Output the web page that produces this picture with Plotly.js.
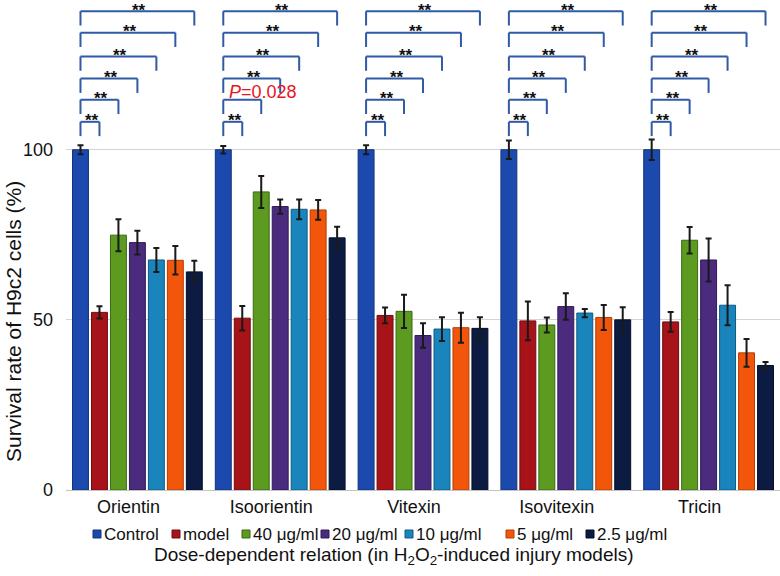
<!DOCTYPE html>
<html>
<head>
<meta charset="utf-8">
<script src="https://cdn.plot.ly/plotly-3.0.1.min.js"></script>
<style>html,body{margin:0;padding:0;background:#fff;}#chart{width:780px;height:576px;}</style>
</head>
<body>
<div id="chart"></div>
<script>
// ---- data ----
const categories = ['Orientin', 'Isoorientin', 'Vitexin', 'Isovitexin', 'Tricin'];
const seriesNames = ['Control', 'model', '40 μg/ml', '20 μg/ml', '10 μg/ml', '5 μg/ml', '2.5 μg/ml'];

const controlVals = [100, 100, 100, 100, 100];
const controlErr  = [1.3, 1.1, 1.3, 2.7, 3.0];
const modelVals   = [52.2, 50.5, 51.3, 49.7, 49.4];
const modelErr    = [1.8, 3.6, 2.3, 5.7, 2.9];
const d40Vals     = [74.9, 87.6, 52.5, 48.5, 73.4];
const d40Err      = [4.7, 4.7, 4.9, 2.2, 3.9];
const d20Vals     = [72.7, 83.3, 45.4, 53.9, 67.6];
const d20Err      = [3.5, 2.1, 3.6, 3.9, 6.3];
const d10Vals     = [67.6, 82.5, 47.3, 52.0, 54.3];
const d10Err      = [3.5, 2.9, 3.5, 1.2, 5.9];
const d5Vals      = [67.5, 82.3, 47.7, 50.7, 40.3];
const d5Err       = [4.2, 2.9, 4.4, 3.7, 4.1];
const d25Vals     = [64.1, 74.1, 47.5, 50.0, 36.6];
const d25Err      = [3.3, 3.3, 3.3, 3.7, 1.0];

const yTickVals = [0, 50, 100];
const yTitle = 'Survival rate of H9c2 cells (%)';
const xTitle = 'Dose-dependent relation (in H<sub>2</sub>O<sub>2</sub>-induced injury models)';

// significance labels: control vs model, 40, 20, 10, 5, 2.5
const sigLabels = [
  ['**', '**', '**', '**', '**', '**'],
  ['**', 'P=0.028', '**', '**', '**', '**'],
  ['**', '**', '**', '**', '**', '**'],
  ['**', '**', '**', '**', '**', '**'],
  ['**', '**', '**', '**', '**', '**']
];

// ---- styles / layout constants ----
const FONT = 'Liberation Sans, Arial, Helvetica, sans-serif';
const barColors  = ['#1B49AE', '#A81219', '#5C9A20', '#4B2B7E', '#1A84BC', '#F2560A', '#0B1B42'];
const edgeColors = ['#123478', '#6E0C10', '#3B6915', '#311B55', '#115A82', '#B23E06', '#050E24'];
const BARGAP = 0.07, GROUPGAP = 0.16;
const bracketLevels = [108.2, 114.7, 120.9, 127.4, 134.4, 140.7];
const legLen = 4.2;
const bracketColor = '#2F5AA5';

const allVals = [controlVals, modelVals, d40Vals, d20Vals, d10Vals, d5Vals, d25Vals];
const allErrs = [controlErr, modelErr, d40Err, d20Err, d10Err, d5Err, d25Err];

const traces = allVals.map((vals, k) => ({
  type: 'bar',
  name: seriesNames[k],
  x: categories,
  y: vals,
  marker: { color: barColors[k], line: { color: edgeColors[k], width: 1 } },
  error_y: { type: 'data', array: allErrs[k], visible: true, color: '#1a1a1a', thickness: 2, width: 3 },
  showlegend: false,
  hoverinfo: 'x+y+name'
}));

// brackets
const shapes = [];
const annotations = [];
const step = (1 - BARGAP) / seriesNames.length;
const mid = (seriesNames.length - 1) / 2;
categories.forEach((c, i) => {
  const xL = i + (0 - mid) * step;
  for (let j = 1; j < seriesNames.length; j++) {
    const xR = i + (j - mid) * step;
    const yT = bracketLevels[j - 1];
    const yB = yT - legLen;
    const ln = { color: bracketColor, width: 2 };
    shapes.push({ type: 'line', xref: 'x', yref: 'y', x0: xL, x1: xL, y0: yB, y1: yT, line: ln });
    shapes.push({ type: 'line', xref: 'x', yref: 'y', x0: xL, x1: xR, y0: yT, y1: yT, line: ln });
    shapes.push({ type: 'line', xref: 'x', yref: 'y', x0: xR, x1: xR, y0: yB, y1: yT, line: ln });
    const lab = sigLabels[i][j - 1];
    if (lab === '**') {
      annotations.push({ xref: 'x', yref: 'y', x: (xL + xR) / 2, y: yT, yanchor: 'middle', yshift: 1, xshift: 2,
        text: '<b>**</b>', showarrow: false, font: { family: FONT, size: 17, color: '#111' } });
    } else {
      const t = lab.replace(/^P/, '<i>P</i>');
      annotations.push({ xref: 'x', yref: 'y', x: xL, y: yT + 2.4, xanchor: 'left', yanchor: 'middle', xshift: 4,
        text: t, showarrow: false, font: { family: FONT, size: 18, color: '#E8141C' } });
    }
  }
});

// manual compact legend + titles
const PL = 66, PW = 714, PH = 490;
const px2x = p => (p - PL) / PW;
const py2y = p => (PH - p) / PH;
const legendIconX = [97, 176, 246, 325, 409, 510, 590];
const legendY = 534;
seriesNames.forEach((n, k) => {
  const cx = legendIconX[k];
  shapes.push({ type: 'rect', xref: 'paper', yref: 'paper',
    x0: px2x(cx - 4), x1: px2x(cx + 4), y0: py2y(legendY + 4), y1: py2y(legendY - 4),
    fillcolor: barColors[k], line: { color: edgeColors[k], width: 1 } });
  annotations.push({ xref: 'paper', yref: 'paper', x: px2x(cx + 5), y: py2y(legendY), xanchor: 'left', yanchor: 'middle',
    text: n, showarrow: false, font: { family: FONT, size: 17, color: '#111' } });
});
annotations.push({ xref: 'paper', yref: 'paper', x: px2x(394), y: py2y(556), xanchor: 'center', yanchor: 'middle',
  text: xTitle, showarrow: false, font: { family: FONT, size: 19, color: '#111' } });
annotations.push({ xref: 'paper', yref: 'paper', x: px2x(13), y: py2y(322), xanchor: 'center', yanchor: 'middle',
  textangle: -90, text: yTitle, showarrow: false, font: { family: FONT, size: 21, color: '#111' } });

const layout = {
  width: 780, height: 576,
  margin: { l: 66, r: 0, t: 0, b: 86, pad: 0 },
  paper_bgcolor: '#fff', plot_bgcolor: '#fff',
  barmode: 'group', bargap: BARGAP, bargroupgap: GROUPGAP,
  font: { family: FONT, size: 18, color: '#111' },
  showlegend: false,
  xaxis: {
    type: 'category',
    showline: true, linecolor: '#c4c4c4', linewidth: 1,
    ticks: '', showgrid: false,
    tickfont: { family: FONT, size: 18, color: '#111' },
    ticklabelshift: -9,
    automargin: false
  },
  yaxis: {
    range: [0, 144], tickvals: yTickVals, ticktext: yTickVals.map(String),
    showgrid: true, gridcolor: '#d4d4d4', gridwidth: 1,
    zeroline: false, showline: false, ticks: '',
    tickfont: { family: FONT, size: 18, color: '#111' },
    ticklabelstandoff: 12,
    automargin: false
  },
  shapes: shapes,
  annotations: annotations
};

Plotly.newPlot('chart', traces, layout, { displayModeBar: false, staticPlot: true });
</script>
</body>
</html>
